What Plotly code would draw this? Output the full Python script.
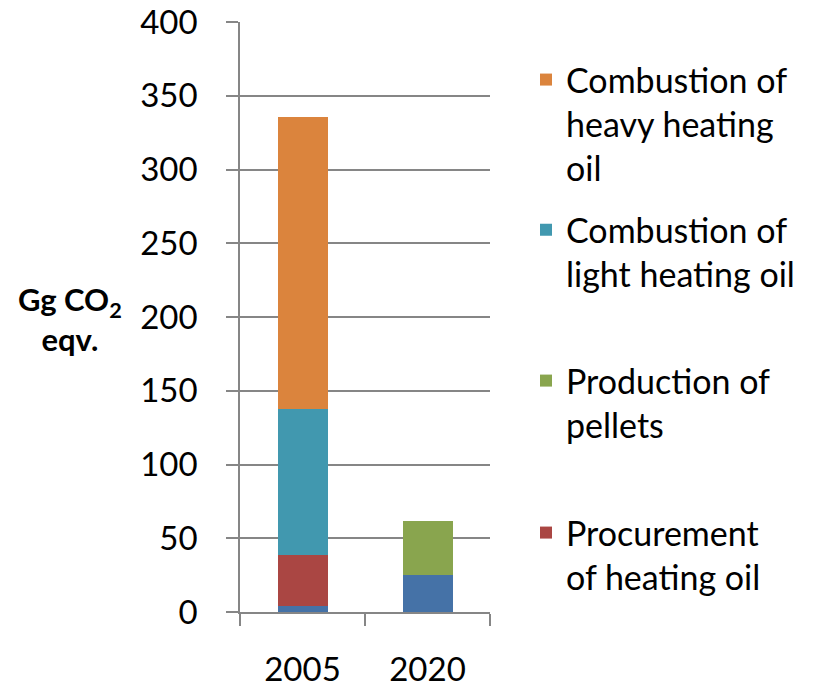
import plotly.graph_objects as go

years = ["2005", "2020"]
series_names = [
    "Other",
    "Procurement<br>of heating oil",
    "Production of<br>pellets",
    "Combustion of<br>light heating oil",
    "Combustion of<br>heavy heating<br>oil",
]
blue_vals = [4, 25]
red_vals = [34.5, 0]
green_vals = [0, 37]
teal_vals = [99, 0]
orange_vals = [198, 0]
colors = ["#4572A7", "#AA4643", "#89A54E", "#4198AF", "#DB843D"]
y_ticks = [0, 50, 100, 150, 200, 250, 300, 350, 400]

values = [blue_vals, red_vals, green_vals, teal_vals, orange_vals]
legend_ids = [None, "legend4", "legend3", "legend2", "legend"]
legend_y = [None, 0.1831, 0.4407, 0.6962, 0.9509]
FONT = "Lato"

fig = go.Figure()
for i, (name, vals, col) in enumerate(zip(series_names, values, colors)):
    kw = {}
    if legend_ids[i]:
        kw["legend"] = legend_ids[i]
    fig.add_trace(go.Bar(
        x=years, y=vals, name=name,
        marker=dict(color=col, line=dict(width=0)),
        showlegend=(i != 0),
        **kw,
    ))

legend_common = dict(
    x=1.144, xanchor="left", yanchor="top", valign="top",
    bgcolor="rgba(0,0,0,0)",
    font=dict(family=FONT, size=34, color="black"),
)
layout_legends = {}
for lid, ly in zip(legend_ids[1:], legend_y[1:]):
    layout_legends[lid] = dict(legend_common, y=ly)

fig.update_layout(
    barmode="stack",
    bargap=0.6,
    width=814, height=688,
    margin=dict(l=232, r=332, t=14, b=84, autoexpand=False),
    plot_bgcolor="white", paper_bgcolor="white",
    font=dict(family=FONT, size=33, color="black"),
    xaxis=dict(
        type="category",
        showline=True, linecolor="#868686", linewidth=1.5,
        ticks="outside", tickson="boundaries", ticklen=12, tickcolor="#868686", tickwidth=1.5,
        ticklabelposition="outside",
        ticklabeloverflow="allow",
        ticklabelstandoff=28,
        tickfont=dict(family=FONT, size=33),
    ),
    yaxis=dict(
        range=[0, 400],
        tickvals=y_ticks,
        showline=True, linecolor="#868686", linewidth=1.5,
        showgrid=True, gridcolor="#868686", gridwidth=1.5,
        ticks="outside", ticklen=12, tickcolor="#868686", tickwidth=1.5,
        ticklabelposition="outside",
        ticklabeloverflow="allow",
        ticklabelstandoff=22,
        tickfont=dict(family=FONT, size=33),
        zeroline=False,
    ),
    **layout_legends,
)

fig.add_annotation(
    text="<b>Gg CO<sub>2</sub><br>eqv.</b>",
    xref="paper", yref="paper", x=-0.68, y=0.496,
    xanchor="center", yanchor="middle", showarrow=False,
    font=dict(family=FONT, size=31, color="black"),
)

fig.write_html("out.html")
